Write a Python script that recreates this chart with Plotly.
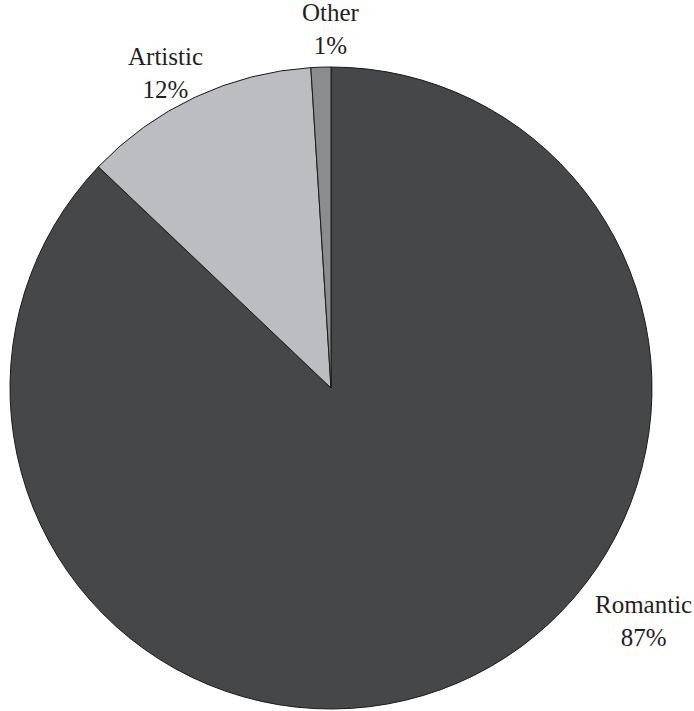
import plotly.graph_objects as go

labels = ["Romantic", "Artistic", "Other"]
values = [87.1, 11.9, 1.0]
display_pct = ["87%", "12%", "1%"]
colors = ["#464749", "#bcbdc0", "#8b8c8e"]

W, H = 694, 711
cx, cy, r = 331, 388, 321

fig = go.Figure(go.Pie(
    labels=labels,
    values=values,
    sort=False,
    direction="clockwise",
    rotation=0,
    textinfo="none",
    hoverinfo="label+percent",
    marker=dict(colors=colors, line=dict(color="#1a1a1a", width=1)),
    domain=dict(x=[(cx - r) / W, (cx + r) / W], y=[1 - (cy + r) / H, 1 - (cy - r) / H]),
    showlegend=False,
))

label_pos = {"Romantic": (643, 621), "Artistic": (165, 73), "Other": (331, 29)}
for lab, pct in zip(labels, display_pct):
    x, y = label_pos[lab]
    fig.add_annotation(
        x=x / W, y=1 - y / H, xref="paper", yref="paper",
        text=f"{lab}<br>{pct}", showarrow=False,
        xanchor="center", yanchor="middle",
        font=dict(family="Liberation Serif, serif", size=25, color="#231f20"),
    )

fig.update_layout(
    width=W, height=H,
    margin=dict(l=0, r=0, t=0, b=0),
    paper_bgcolor="white",
    plot_bgcolor="white",
)

fig.write_html("out.html")
